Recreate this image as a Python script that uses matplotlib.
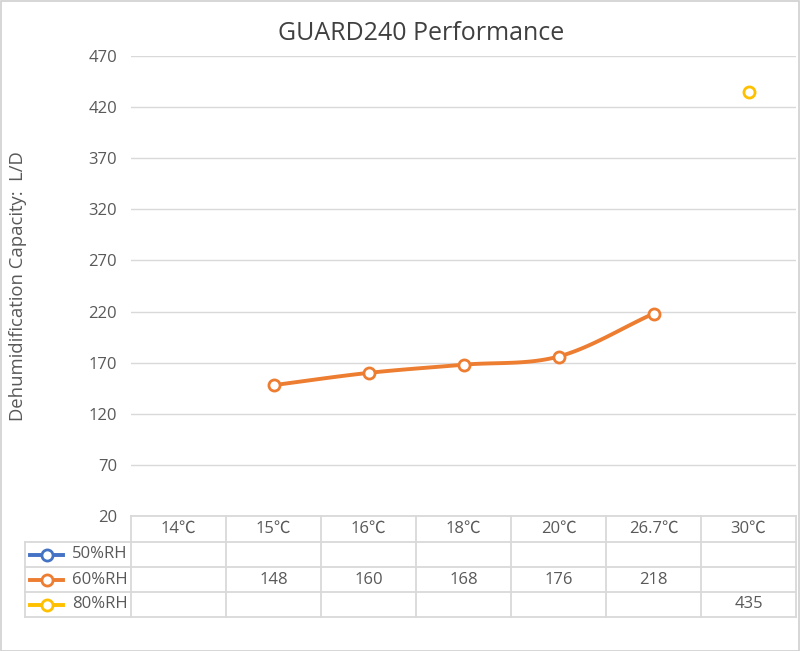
import numpy as np
import matplotlib.pyplot as plt
from matplotlib.transforms import blended_transform_factory
from matplotlib.patches import Rectangle

plt.rcParams['font.family'] = ['Open Sans', 'Noto Sans CJK SC', 'DejaVu Sans']

# data
categories = ['14℃', '15℃', '16℃', '18℃', '20℃', '26.7℃', '30℃']
series_names = ['50%RH', '60%RH', '80%RH']
rh50 = [None, None, None, None, None, None, None]
rh60 = [None, 148, 160, 168, 176, 218, None]
rh80 = [None, None, None, None, None, None, 435]
colors = ['#4472C4', '#ED7D31', '#FFC000']
yticks = [20, 70, 120, 170, 220, 270, 320, 370, 420, 470]

txt = '#595959'
grid = '#D9D9D9'
fs = 12

def smooth(xs, ys, n=30):
    # catmull-rom style curve through the points (like excel "smoothed line")
    xs = np.asarray(xs, float)
    ys = np.asarray(ys, float)
    px = np.concatenate([[2 * xs[0] - xs[1]], xs, [2 * xs[-1] - xs[-2]]])
    py = np.concatenate([[2 * ys[0] - ys[1]], ys, [2 * ys[-1] - ys[-2]]])
    ox, oy = [], []
    for i in range(1, len(px) - 2):
        t = np.linspace(0, 1, n)
        for arr, out in ((px, ox), (py, oy)):
            p0, p1, p2, p3 = arr[i - 1], arr[i], arr[i + 1], arr[i + 2]
            out.extend(0.5 * (2 * p1 + (-p0 + p2) * t + (2 * p0 - 5 * p1 + 4 * p2 - p3) * t ** 2
                              + (-p0 + 3 * p1 - 3 * p2 + p3) * t ** 3))
    return ox, oy

W, H = 800, 651
fig = plt.figure(figsize=(8, 6.51), dpi=100)
left, right, top, bottom = 131, 796, 56, 516
ax = fig.add_axes([left / W, 1 - bottom / H, (right - left) / W, (bottom - top) / H])

fig.patches.append(Rectangle((0.5 / W, 0.5 / H), 1 - 1.5 / W, 1 - 1.5 / H, transform=fig.transFigure,
                             fill=False, edgecolor='#D0D0D0', lw=1.2))

for vals, name, c in zip([rh50, rh60, rh80], series_names, colors):
    pts = [(i, v) for i, v in enumerate(vals) if v is not None]
    if not pts:
        continue
    px, py = zip(*pts)
    if len(pts) > 2:
        sx, sy = smooth(px, py)
        ax.plot(sx, sy, color=c, lw=2.8, solid_capstyle='round', zorder=3)
    elif len(pts) == 2:
        ax.plot(px, py, color=c, lw=2.8, zorder=3)
    ax.plot(px, py, 'o', ms=8, mfc='white', mec=c, mew=2, zorder=4)

ax.set_xlim(-0.5, len(categories) - 0.5)
ax.set_ylim(20, 470)
ax.set_yticks(yticks)
ax.set_xticks([])
ax.tick_params(axis='y', length=0, pad=10, labelsize=fs, labelcolor=txt)
ax.yaxis.grid(True, color=grid, lw=1)
ax.set_axisbelow(True)
for s in ax.spines.values():
    s.set_visible(False)

ax.set_ylabel('Dehumidification Capacity:  L/D', fontsize=13.3, color=txt, labelpad=44)
fig.text(0.526, 1 - 33 / H, 'GUARD240 Performance', ha='center', va='center', fontsize=18, color='#404040')

# data table below the plot
ph = bottom - top
tr = blended_transform_factory(ax.transData, ax.transAxes)
row_edges = [0, 26, 51, 76, 101]  # px below the axis bottom
yf = [-r / ph for r in row_edges]
lkw = dict(color=grid, lw=1.3, clip_on=False, transform=tr)
xl = -0.5 - (left - 25) / 95.0  # legend column left edge in data units

ax.plot([-0.5, 6.5], [yf[0], yf[0]], **lkw)
for r in yf[1:]:
    ax.plot([xl, 6.5], [r, r], **lkw)
for i in range(len(categories) + 1):
    ax.plot([i - 0.5, i - 0.5], [yf[0], yf[-1]], **lkw)
ax.plot([xl, xl], [yf[1], yf[-1]], **lkw)

for i, cat in enumerate(categories):
    ax.text(i, (yf[0] + yf[1]) / 2, cat, transform=tr, ha='center', va='center', fontsize=fs, color=txt)

for k, (vals, name, c) in enumerate(zip([rh50, rh60, rh80], series_names, colors)):
    yc = (yf[k + 1] + yf[k + 2]) / 2
    for i, v in enumerate(vals):
        if v is not None:
            ax.text(i, yc, str(v), transform=tr, ha='center', va='center', fontsize=fs, color=txt)
    yfig = 1 - (bottom + (row_edges[k + 1] + row_edges[k + 2]) / 2) / H
    fig.lines.append(plt.Line2D([30 / W, 63 / W], [yfig, yfig], color=c, lw=2.8, transform=fig.transFigure))
    fig.lines.append(plt.Line2D([46.5 / W], [yfig], marker='o', ms=8, mfc='white', mec=c, mew=2,
                                transform=fig.transFigure))
    fig.text(72 / W, yfig, name, ha='left', va='center', fontsize=fs, color=txt)

fig.savefig('out.png', dpi=100)
